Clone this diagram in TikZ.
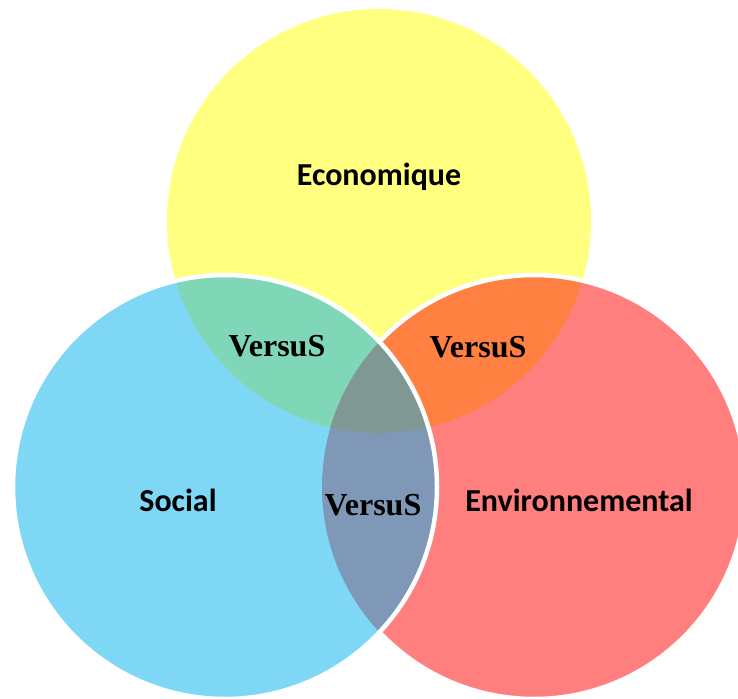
\documentclass[tikz,border=0pt]{standalone}
\usepackage{fontspec}
\newfontfamily\labelfont{Carlito}
\newfontfamily\vsfont{Liberation Serif}
\definecolor{cy}{HTML}{FFFF80}
\definecolor{cb}{HTML}{7FD7F6}
\definecolor{cr}{HTML}{FF7F7F}
\definecolor{cyb}{HTML}{80D7B8}
\definecolor{cyr}{HTML}{FF8040}
\definecolor{cbr}{HTML}{7F98B8}
\definecolor{cybr}{HTML}{7F9894}
\begin{document}
\begin{tikzpicture}[x=1pt,y=-1pt,
  lbl/.style={font=\labelfont\bfseries\fontsize{32}{36}\selectfont, text=black},
  vs/.style={font=\vsfont\bfseries\fontsize{32}{36}\selectfont, text=black},
  outl/.style={draw=white, line width=4.5pt}]
\useasboundingbox (0,0) rectangle (738,698);
\def\Y{(379,221) circle (212)}
\def\B{(225,487) circle (212)}
\def\R{(534,487) circle (212)}
\begin{scope}
\clip (0,0) rectangle (738,698);
\fill[cy] \Y;
\fill[cr] \R;
\fill[cb] \B;
\begin{scope}\clip \Y; \fill[cyb] \B; \end{scope}
\begin{scope}\clip \Y; \fill[cyr] \R; \end{scope}
\begin{scope}\clip \B; \fill[cbr] \R; \end{scope}
\begin{scope}\clip \Y; \clip \B; \fill[cybr] \R; \end{scope}
\begin{scope}[even odd rule]
\clip (-50,-50) rectangle (800,800) \B;
\draw[outl] \R;
\end{scope}
\draw[outl] \B;
\end{scope}
\node[lbl] (eco) at (379,177) {Economique};
\node[lbl] (soc) at (178,500) {Social};
\node[lbl] (env) at (579,500) {Environnemental};
\node[vs] (v1) at (277,346) {VersuS};
\node[vs] (v2) at (478,347) {VersuS};
\node[vs] (v3) at (373,505) {VersuS};
\end{tikzpicture}
\end{document}
